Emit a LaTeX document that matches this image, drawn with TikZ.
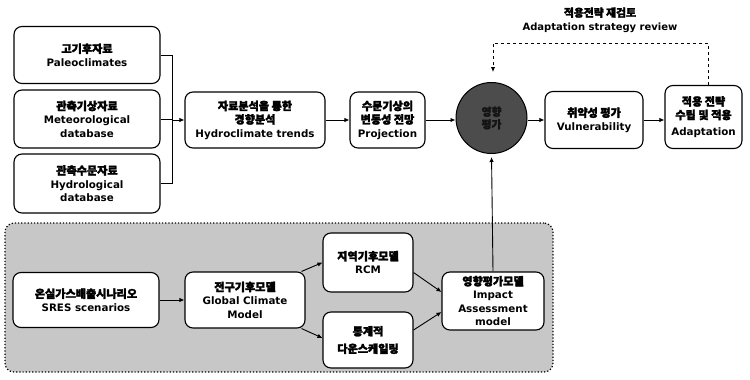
\documentclass[tikz,border=0pt]{standalone}
\usepackage{fontspec}
\setmainfont{DejaVu Sans Bold}
\newfontfamily\kr{Noto Sans CJK KR}[FakeBold=2.5, Scale=1.08]
\newcommand\kor[1]{{\kr\bfseries #1}}
\usetikzlibrary{arrows.meta}
\tikzset{
  box/.style={draw=black, line width=1.1pt, fill=white, rounded corners=8pt, align=center,
    font=\bfseries\fontsize{10.3}{13.5}\selectfont, inner sep=2pt},
  arr/.style={-{Latex[length=5pt,width=4.5pt]}, line width=0.9pt},
  ln/.style={line width=0.9pt}
}
\begin{document}
\begin{tikzpicture}[x=1pt,y=-1pt]
\useasboundingbox (0,0) rectangle (750,380);
% shaded region
\node[draw=black, dotted, line width=1.2pt, fill=black!22, rounded corners=9pt,
  minimum width=548pt, minimum height=149pt, inner sep=0pt] (region) at (279,297.5) {};
% top-left inputs
\node[box, minimum width=146pt, minimum height=57pt] (paleo) at (87,55) {\kor{고기후자료}\\Paleoclimates};
\node[box, minimum width=146pt, minimum height=58pt] (meteo) at (87,119) {\kor{관측기상자료}\\Meteorological\\database};
\node[box, minimum width=146pt, minimum height=59pt] (hydro) at (87,183.5) {\kor{관측수문자료}\\Hydrological\\database};
\coordinate (bj) at (172,120);
\coordinate (btop) at (172,55);
\coordinate (bbot) at (172,183.5);
% main chain
\node[box, minimum width=140pt, minimum height=56pt] (trend) at (255,120) {\kor{자료분석을 통한}\\\kor{경향분석}\\Hydroclimate trends};
\node[box, minimum width=75pt, minimum height=56pt] (proj) at (387.5,120) {\kor{수문기상의}\\\kor{변동성 전망}\\Projection};
\node[circle, draw=black, line width=1pt, fill=black!70, minimum size=71pt, inner sep=0pt,
  align=center, font=\bfseries\fontsize{10}{12.5}\selectfont, text=black!92] (circ) at (491.5,118) {\kor{영향}\\\kor{평가}};
\node[box, minimum width=98pt, minimum height=57pt] (vul) at (594,120) {\kor{취약성 평가}\\Vulnerability};
\node[box, minimum width=77pt, minimum height=63pt] (adapt) at (703.5,117) {\kor{적용 전략}\\\kor{수립 및 적용}\\[3pt]Adaptation};
% feedback label
\node[align=center, font=\bfseries\fontsize{10}{13.5}\selectfont] (fblabel) at (600,20) {\kor{적용전략 재검토}\\Adaptation strategy review};
\coordinate (fa) at (708,43);
\coordinate (fb) at (493,43);
\coordinate (fc) at (493,72);
% bottom models
\node[box, minimum width=146pt, minimum height=55pt] (sres) at (86,300) {\kor{온실가스배출시나리오}\\SRES scenarios};
\node[box, minimum width=120pt, minimum height=56pt] (gcm) at (245,300) {\kor{전구기후모델}\\Global Climate\\Model};
\node[box, minimum width=90pt, minimum height=59pt] (rcm) at (368,262.5) {\kor{지역기후모델}\\RCM};
\node[box, minimum width=90pt, minimum height=56pt] (down) at (368,340) {\kor{통계적}\\[4pt]\kor{다운스케일링}};
\node[box, minimum width=102pt, minimum height=58pt] (iam) at (493,301) {\kor{영향평가모델}\\Impact\\Assessment\\model};
% connectors
\draw[ln] (paleo.east) -- (paleo.east -| bj);
\draw[ln] (meteo.east) -- (meteo.east -| bj);
\draw[ln] (hydro.east) -- (hydro.east -| bj);
\draw[ln] (btop) -- (bbot);
\draw[arr] (bj) -- (trend.west);
\draw[arr] (trend.east) -- (proj.west);
\draw[arr] (proj.east) -- (proj.east -| circ.west);
\draw[arr] (vul.west -| circ.east) -- (vul.west);
\draw[arr] (vul.east) -- (vul.east -| adapt.west);
\draw[arr, dashed] (adapt.north -| fa) -- (fa) -- (fb) -- (fc);
\draw[arr] (sres.east) -- (gcm.west);
\draw[arr] ([xshift=-4pt]gcm.north east) -- (rcm.west);
\draw[arr] ([xshift=-4pt]gcm.south east) -- ([yshift=2pt]down.west);
\draw[arr] ([yshift=-10pt]rcm.east) -- ([yshift=9pt]iam.west);
\draw[arr] ([yshift=10pt]down.east) -- ([yshift=-11pt]iam.west);
\draw[arr, shorten >=3pt] (iam.north) -- (circ.south);
\end{tikzpicture}
\end{document}
